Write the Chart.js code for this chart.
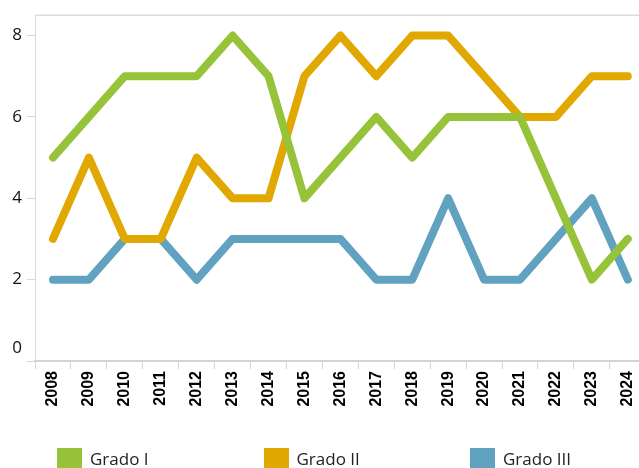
<!DOCTYPE html>
<html>
<head>
<meta charset="utf-8">
<script src="https://cdn.jsdelivr.net/npm/chart.js@4.4.1/dist/chart.umd.min.js"></script>
<style>
    html, body { margin: 0; padding: 0; background: #fff; overflow: hidden; }
    #wrap { position: relative; width: 639px; height: 468px; overflow: hidden; }
    #chart { position: absolute; left: 0; top: 0; }
    #legend { position: absolute; left: 0; top: 448px; width: 639px; height: 20px; }
    .item { position: absolute; top: 0; display: flex; align-items: flex-start;
            font-family: 'Open Sans', sans-serif; font-size: 17px; color: #222; }
    .swatch { width: 25px; height: 25px; margin-right: 8px; }
    .label { line-height: 21px; white-space: nowrap; }
</style>
</head>
<body>
<div id="wrap">
    <canvas id="chart" width="649" height="448"></canvas>
    <div id="legend"></div>
</div>
<script>
'use strict';

var years = ['2008', '2009', '2010', '2011', '2012', '2013', '2014', '2015', '2016',
    '2017', '2018', '2019', '2020', '2021', '2022', '2023', '2024'];
var gradoI = [5, 6, 7, 7, 7, 8, 7, 4, 5, 6, 5, 6, 6, 6, 4, 2, 3];
var gradoII = [3, 5, 3, 3, 5, 4, 4, 7, 8, 7, 8, 8, 7, 6, 6, 7, 7];
var gradoIII = [2, 2, 3, 3, 2, 3, 3, 3, 3, 2, 2, 4, 2, 2, 3, 4, 2];
var seriesNames = ['Grado I', 'Grado II', 'Grado III'];
var seriesColors = ['#97c33a', '#e0a800', '#60a2bf'];
var yTicks = [0, 2, 4, 6, 8];

// light frame line along the top of the plot
var topFrame = {
    id: 'topFrame',
    beforeDatasetsDraw: function (chart) {
        var a = chart.chartArea;
        var ctx = chart.ctx;
        ctx.save();
        ctx.strokeStyle = '#dcdcdc';
        ctx.lineWidth = 1.5;
        ctx.beginPath();
        ctx.moveTo(a.left, a.top);
        ctx.lineTo(a.right, a.top);
        ctx.stroke();
        ctx.restore();
    }
};

var makeSet = (name, values, color) => ({
    label: name,
    data: values,
    borderColor: color,
    backgroundColor: color,
    borderWidth: 8,
    borderCapStyle: 'round',
    borderJoinStyle: 'round',
    pointRadius: 0,
    tension: 0,
    fill: false
});

var chart = new Chart(document.getElementById('chart'), {
    type: 'line',
    data: {
        labels: years,
        datasets: [
            makeSet(seriesNames[0], gradoI, seriesColors[0]),
            makeSet(seriesNames[1], gradoII, seriesColors[1]),
            makeSet(seriesNames[2], gradoIII, seriesColors[2])
        ]
    },
    options: {
        responsive: false,
        animation: false,
        layout: { padding: { top: 13, right: 0, bottom: 0, left: 0 } },
        plugins: {
            legend: { display: false },
            tooltip: { enabled: false }
        },
        scales: {
            x: {
                offset: true,
                grid: { offset: true, drawOnChartArea: false, tickLength: 8, color: '#d4d4d4' },
                border: { color: '#d4d4d4', width: 2, dash: [4, 2] },
                ticks: {
                    autoSkip: false,
                    minRotation: 90,
                    maxRotation: 90,
                    padding: 2,
                    color: '#000',
                    font: { family: 'Liberation Sans', size: 16, weight: 'bold' }
                },
                afterFit: s => { s.height = 87; }
            },
            y: {
                min: 0,
                max: 8.5,
                afterBuildTicks: s => { s.ticks = yTicks.map(v => ({ value: v })); },
                grid: { drawOnChartArea: false, tickLength: 8, color: '#d8d8d8' },
                border: { color: '#d8d8d8' },
                ticks: {
                    padding: 5,
                    color: '#111',
                    // the bottom label sits just above the axis, like the original
                    font: c => ({
                        family: 'Open Sans',
                        size: 17,
                        lineHeight: c.tick && c.tick.value === 0 ? '26px' : 1.2
                    }),
                    callback: v => v === 0 ? ['0', ''] : String(v)
                },
                afterFit: s => { s.width = 35; }
            }
        }
    },
    plugins: [topFrame]
});

// legend below the chart, built from the datasets
var legend = document.getElementById('legend');
chart.data.datasets.forEach((ds, i) => {
    var item = document.createElement('div');
    item.className = 'item';
    item.style.left = (57 + i * 206.5) + 'px';
    var sw = document.createElement('div');
    sw.className = 'swatch';
    sw.style.background = ds.borderColor;
    var lb = document.createElement('div');
    lb.className = 'label';
    lb.textContent = ds.label;
    item.appendChild(sw);
    item.appendChild(lb);
    legend.appendChild(item);
});
</script>
</body>
</html>
